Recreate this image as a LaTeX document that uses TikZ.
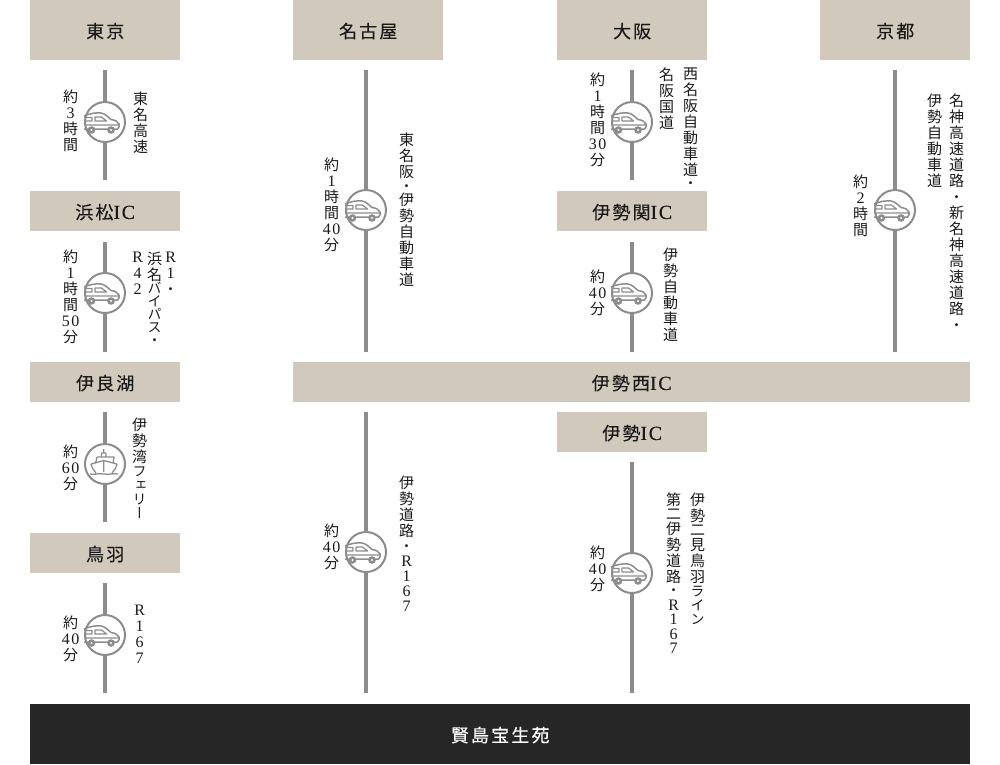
\documentclass[tikz,border=0pt]{standalone}
\usepackage{fontspec}
\setmainfont{Liberation Serif}
\newfontfamily\cjkv[RawFeature=+vert]{Noto Sans CJK JP}
\newfontfamily\cjkh[LetterSpace=12,FakeBold=0.25]{Noto Sans CJK JP}
\newfontfamily\latnum[LetterSpace=10]{Liberation Serif}
\newfontfamily\lathead[LetterSpace=8,FakeBold=0.25]{Liberation Serif}
\newcommand{\n}[1]{{\latnum\fontsize{16}{16}\selectfont #1}}
\newcommand{\hl}[1]{{\lathead\fontsize{20}{20}\selectfont #1}}
\newcommand{\kn}[1]{{\fontsize{14}{14}\selectfont #1}}
\definecolor{band}{HTML}{D2C9BD}
\definecolor{routegray}{HTML}{8C8C8C}
\definecolor{ink}{HTML}{1A1A1A}
\definecolor{darkband}{HTML}{262626}
\tikzset{
  x=1pt,y=-1pt,
  headband/.style={fill=band,draw=none,inner sep=0,text=ink,anchor=north west,
    font=\cjkh\fontsize{18}{20}\selectfont,align=center,text height=15.5pt,text depth=0pt},
  vtext/.style={inner sep=0,anchor=north,align=center,text=ink,xshift=0.7pt,
    font=\cjkv\fontsize{15}{16}\selectfont},
  routeline/.style={draw=routegray,line width=4pt},
  stopmark/.style={circle,draw=routegray,line width=2pt,fill=white,minimum size=40pt,inner sep=0},
  carpic/.pic={
    \draw[routegray,line width=1.5pt,line join=round]
      (-21,-6) .. controls (-14,-9) and (-8,-9.5) .. (-4,-9)
      .. controls (0,-8.5) and (3,-5) .. (6,-2.5)
      .. controls (10,-2) and (13,-0.5) .. (14,2)
      .. controls (14.5,4) and (14,6) .. (12.5,7)
      -- (-21,7);
    \draw[routegray,line width=1.2pt,line join=round]
      (-21,-4.5) -- (-13,-4.5) -- (-13,-1) -- (-21,-1)
      (-10,-5) -- (-3.5,-5) -- (1.5,-1) -- (-10,-1) -- cycle
      (-21,3) -- (14,3);
    \fill[routegray] (-13.5,8) circle (3.8) (6,8) circle (3.8);
    \fill[white] (-13.5,8) circle (1.2) (6,8) circle (1.2);
  },
  shippic/.pic={
    \draw[routegray,line width=1.3pt,line join=round]
      (-3.5,-11) -- (-3.5,-7) -- (1,-7) -- (1,-11)
      (-1.2,-15) -- (-1.2,-11)
      (-3.5,-11) -- (1,-11)
      (-8,-7) -- (9,-7) -- (8,-0.5)
      (-8,-7) -- (-9.5,-0.5)
      (-14,0) -- (-1.2,-3.5) -- (12,0)
      (-14,0) .. controls (-13,4) and (-11,7) .. (-9,9)
      (12,0) .. controls (11,4) and (9,7) .. (7,9)
      (-1.2,-3.5) -- (-1.2,8)
      (-15,10) .. controls (-10,11) and (-7,9) .. (-1,10)
      .. controls (5,11) and (8,9) .. (13,10);
  }
}
\begin{document}
\begin{tikzpicture}
\useasboundingbox (0,0) rectangle (1000,764);
% header bands
\node[headband,minimum width=150pt,minimum height=60pt] (tokyo) at (30,0) {東京};
\node[headband,minimum width=150pt,minimum height=60pt] (nagoya) at (293,0) {名古屋};
\node[headband,minimum width=150pt,minimum height=60pt] (osaka) at (557,0) {大阪};
\node[headband,minimum width=150pt,minimum height=60pt] (kyoto) at (820,0) {京都};
\node[headband,minimum width=150pt,minimum height=40pt] (hamamatsu) at (30,191) {浜松\hl{IC}};
\node[headband,minimum width=150pt,minimum height=40pt] (sekiic) at (557,191) {伊勢関\hl{IC}};
\node[headband,minimum width=150pt,minimum height=40pt] (irago) at (30,362) {伊良湖};
\node[headband,minimum width=677pt,minimum height=40pt] (nishiic) at (293,362) {伊勢西\hl{IC}};
\node[headband,minimum width=150pt,minimum height=40pt] (iseic) at (557,412) {伊勢\hl{IC}};
\node[headband,minimum width=150pt,minimum height=40pt] (toba) at (30,533) {鳥羽};
\node[headband,minimum width=940pt,minimum height=60pt,fill=darkband,text=white] (goal) at (30,704) {賢島宝生苑};
% routes
\coordinate (a1) at (105,70);  \coordinate (b1) at (105,180);
\coordinate (a2) at (105,242); \coordinate (b2) at (105,352);
\coordinate (a3) at (105,412); \coordinate (b3) at (105,522);
\coordinate (a4) at (105,583); \coordinate (b4) at (105,693);
\coordinate (a5) at (366,70);  \coordinate (b5) at (366,352);
\coordinate (a6) at (366,412); \coordinate (b6) at (366,693);
\coordinate (a7) at (632,70);  \coordinate (b7) at (632,180);
\coordinate (a8) at (632,242); \coordinate (b8) at (632,352);
\coordinate (a9) at (632,462); \coordinate (b9) at (632,693);
\coordinate (a10) at (895,70); \coordinate (b10) at (895,352);
\foreach \i in {1,...,10} \draw[routeline] (a\i) -- (b\i);
% stops
\node[stopmark] (s1) at (105,122) {};
\node[stopmark] (s2) at (105,293) {};
\node[stopmark] (s3) at (105,464) {};
\node[stopmark] (s4) at (105,635) {};
\node[stopmark] (s5) at (366,210) {};
\node[stopmark] (s6) at (366,552) {};
\node[stopmark] (s7) at (632,122) {};
\node[stopmark] (s8) at (632,293) {};
\node[stopmark] (s9) at (632,573) {};
\node[stopmark] (s10) at (895,210) {};
\foreach \i in {1,2,4,5,6,7,8,9,10} \pic at (s\i) {carpic};
\pic at (s3) {shippic};
% column 1
\node[vtext] (t1) at (70,90) {約\\\n{3}\\時\\間};
\node[vtext] (r1) at (140,92) {東\\名\\高\\速};
\node[vtext] (t2) at (70,250) {約\\\n{1}\\時\\間\\\n{50}\\分};
\node[vtext] (r2a) at (170,252) {\n{R}\\\n{1}\\\kn{・}};
\node[vtext] (r2b) at (154,252) {浜\\名\\[-3pt]\kn{バ}\\[-3pt]\kn{イ}\\[-3pt]\kn{パ}\\[-3pt]\kn{ス}\\[-3pt]\kn{・}};
\node[vtext] (r2c) at (137,252) {\n{R}\\\n{4}\\\n{2}};
\node[vtext] (t3) at (70,445) {約\\\n{60}\\分};
\node[vtext] (r3) at (139,418) {伊\\勢\\湾\\[-2pt]\kn{フ}\\[-2pt]\kn{ェ}\\[-2pt]\kn{リ}\\[-2pt]\kn{ー}};
\node[vtext] (t4) at (70,616) {約\\\n{40}\\分};
\node[vtext] (r4) at (139,605) {\n{R}\\\n{1}\\\n{6}\\\n{7}};
% column 2
\node[vtext] (t5) at (331,158) {約\\\n{1}\\時\\間\\\n{40}\\分};
\node[vtext] (r5) at (406,133) {東\\名\\阪\\[-2pt]\kn{・}\\[-2pt]伊\\勢\\自\\動\\車\\道};
\node[vtext] (t6) at (331,524) {約\\\n{40}\\分};
\node[vtext] (r6) at (406,476) {伊\\勢\\道\\路\\[-1pt]\kn{・}\\[-1pt]\n{R}\\[-1pt]\n{1}\\[-1pt]\n{6}\\[-1pt]\n{7}};
% column 3
\node[vtext] (t7) at (597,73) {約\\\n{1}\\時\\間\\\n{30}\\分};
\node[vtext] (r7a) at (690,68) {西\\名\\阪\\自\\動\\車\\道\\[-3pt]\kn{・}};
\node[vtext] (r7b) at (666,68) {名\\阪\\国\\道};
\node[vtext] (t8) at (597,270) {約\\\n{40}\\分};
\node[vtext] (r8) at (670,248) {伊\\勢\\自\\動\\車\\道};
\node[vtext] (t9) at (597,546) {約\\\n{40}\\分};
\node[vtext] (r9a) at (697,493) {伊\\勢\\[-2pt]二\\[-1pt]見\\鳥\\羽\\[-2pt]\kn{ラ}\\[-2pt]\kn{イ}\\[-2pt]\kn{ン}};
\node[vtext] (r9b) at (673,493) {第\\[-2pt]二\\[-1pt]伊\\勢\\道\\路\\[-3pt]\kn{・}\\[-1.5pt]\n{R}\\[-1.5pt]\n{1}\\[-1.5pt]\n{6}\\[-1.5pt]\n{7}};
% column 4
\node[vtext] (t10) at (860,175) {約\\\n{2}\\時\\間};
\node[vtext] (r10a) at (956,94) {名\\神\\高\\速\\道\\路\\\kn{・}\\新\\名\\神\\高\\速\\道\\路\\\kn{・}};
\node[vtext] (r10b) at (934,94) {伊\\勢\\自\\動\\車\\道};
\end{tikzpicture}
\end{document}
